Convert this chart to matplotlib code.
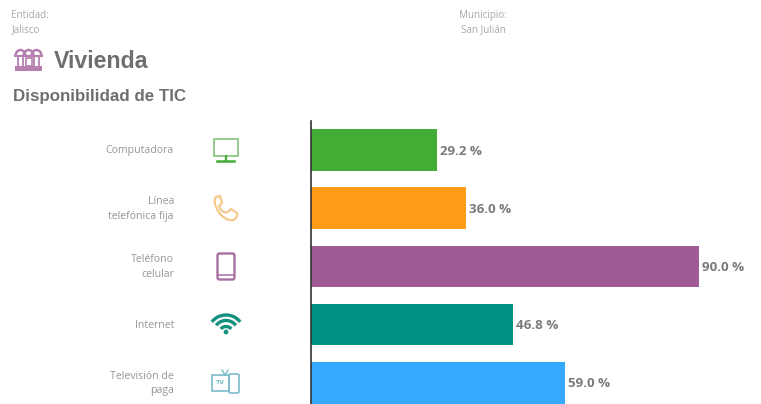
import matplotlib
matplotlib.use('Agg')  # Headless mode
import matplotlib.pyplot as plt
from matplotlib.patches import Rectangle, FancyBboxPatch, Arc, Circle, PathPatch
from matplotlib.path import Path

# data
categories = ['Computadora', 'Línea\ntelefónica fija', 'Teléfono\ncelular', 'Internet', 'Televisión de\npaga']
values = [29.2, 36.0, 90.0, 46.8, 59.0]
colors = ['#43AC34', '#FF9E16', '#A05A96', '#009383', '#35A8FF']

W, H = 761, 404
LIGHT = 'Open Sans'
GREY = '#969696'
HEAD = '#6f6f6f'

fig = plt.figure(figsize=(W / 100, H / 100), dpi=100)

# ========== bars ==========
ax = fig.add_axes([311 / W, 0, 450 / W, (404 - 121) / H])
ax.barh(range(len(values)), values, height=0.715, color=colors)
ax.set_xlim(0, 450 / 4.311)
ax.set_ylim(4.364, -0.498)
for i, v in enumerate(values):
    ax.text(v + 0.7, i + 0.02, f'{v:.1f} %', va='center', ha='left', fontsize=9.6,
            fontweight='bold', color='#7a7a7a', family='Open Sans')
for s in ['top', 'right', 'bottom']:
    ax.spines[s].set_visible(False)
ax.spines['left'].set_color('#333333')
ax.spines['left'].set_linewidth(1.2)
ax.set_xticks([])
ax.set_yticks([])

# ========== text and icons in pixel coords ==========
ov = fig.add_axes([0, 0, 1, 1], zorder=-1)
ov.set_xlim(0, W)
ov.set_ylim(H, 0)
ov.axis('off')

ov.text(11, 15.5, 'Entidad:', fontsize=7.1, color='#a8a8a8', family=LIGHT, va='center')
ov.text(12, 30, 'Jalisco', fontsize=7.1, color='#a8a8a8', family=LIGHT, va='center')
ov.text(459, 15.5, 'Municipio:', fontsize=7.1, color='#a8a8a8', family=LIGHT, va='center')
ov.text(461, 30, 'San Julián', fontsize=7.1, color='#a8a8a8', family=LIGHT, va='center')
ov.text(54, 61, 'Vivienda', fontsize=16.7, fontweight='bold', color=HEAD,
        family='Liberation Sans', va='center')
ov.text(13, 97, 'Disponibilidad de TIC', fontsize=12.2, fontweight='bold', color=HEAD,
        family='Liberation Sans', va='center')

centers = [151, 209, 267, 325.5, 383.5]
for label, cy in zip(categories, centers):
    ov.text(174, cy, label, fontsize=7.55, color=GREY, family=LIGHT, ha='right',
            va='center', linespacing=1.45)

# Vivienda icon
vc = '#B57FB0'
for cx in [20.5, 28.5, 36.5]:
    ov.add_patch(Arc((cx, 56), 10, 12, theta1=180, theta2=360, color=vc, lw=1.8))
ov.plot([15, 42], [56, 56], color=vc, lw=1.5)
for x in [18, 23, 34, 39]:
    ov.plot([x, x], [56, 66], color=vc, lw=1.3)
ov.add_patch(Rectangle((25.5, 58), 6, 8, fill=False, ec=vc, lw=1.2))
ov.add_patch(Rectangle((15, 66), 27, 5, color=vc, lw=0))

# Computadora icon
ov.add_patch(Rectangle((213.5, 138.5), 24.5, 17, fill=False, ec='#8CC885', lw=1.3))
ov.plot([225.5, 225.5], [155.5, 160], color='#43AC34', lw=1.6)
ov.plot([217, 234], [160.5, 160.5], color='#43AC34', lw=1.8)

# Telefono fijo icon
phone = Path([(216, 197), (211, 202), (221, 222), (233, 220), (238, 218), (237, 213),
              (231, 209), (228, 212), (222, 214), (219, 206), (222, 203), (220, 196), (216, 197)],
             [Path.MOVETO, Path.CURVE4, Path.CURVE4, Path.CURVE4, Path.CURVE3, Path.CURVE3,
              Path.LINETO, Path.LINETO, Path.CURVE3, Path.CURVE3, Path.LINETO, Path.LINETO, Path.CLOSEPOLY])
ov.add_patch(PathPatch(phone, fill=False, ec='#F5C98C', lw=1.6))

# Celular icon
ov.add_patch(FancyBboxPatch((217.5, 253.5), 17, 26, boxstyle='round,pad=0,rounding_size=2',
                            fill=False, ec='#A66FA0', lw=1.7))
ov.plot([218, 234], [274.5, 274.5], color='#A66FA0', lw=1.1)

# Internet icon
wc = '#13917F'
ov.add_patch(Circle((226, 332), 2.4, color=wc, lw=0))
for d in [13, 25, 36]:
    ov.add_patch(Arc((226, 333), d, d, theta1=218, theta2=322, color=wc, lw=2.4))

# Television icon
tc = '#7CBCCB'
ov.add_patch(Rectangle((212, 375), 17, 16, fill=False, ec=tc, lw=1.2))
ov.text(220, 383, 'TV', fontsize=4.5, color=tc, fontweight='bold', ha='center', va='center')
ov.add_patch(FancyBboxPatch((229, 374), 10, 19, boxstyle='round,pad=0,rounding_size=1.5',
                            fill=False, ec=tc, lw=1.2))
ov.plot([222, 225], [370, 375], color=tc, lw=1)
ov.plot([228, 225], [370, 375], color=tc, lw=1)

fig.savefig('out.png', dpi=100)
